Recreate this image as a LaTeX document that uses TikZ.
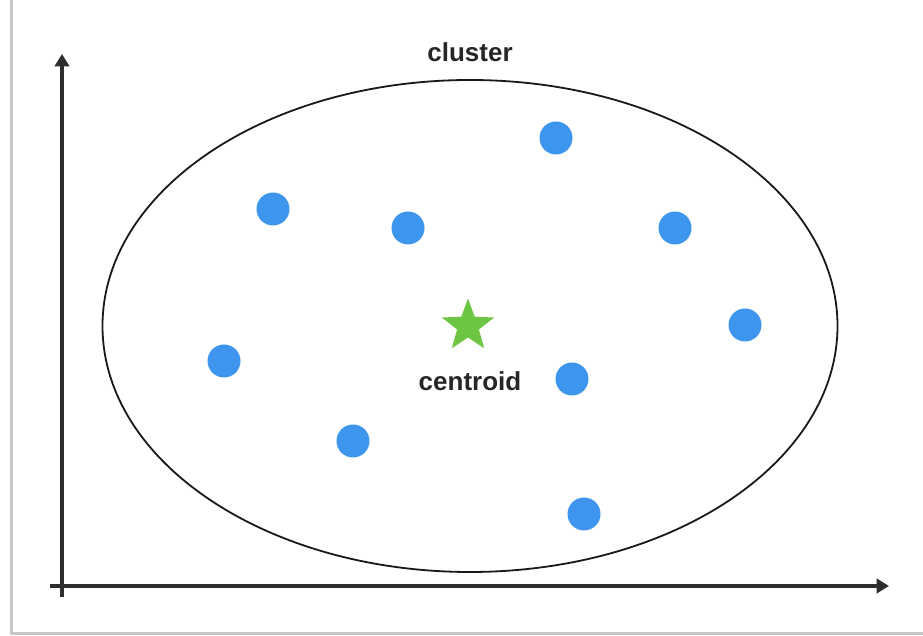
\documentclass[tikz,border=0pt]{standalone}
\usepackage{fontspec}
\setmainfont{Liberation Sans}
\usetikzlibrary{arrows.meta,shapes.geometric}

\definecolor{pointblue}{HTML}{3D95EE}
\definecolor{stargreen}{HTML}{6CC644}
\definecolor{axisgray}{HTML}{2E2E2E}

\begin{document}
\begin{tikzpicture}[
    x=1pt, y=1pt,
    >=Triangle,
    line join=round,
    label/.style={font=\fontsize{26}{30}\selectfont\bfseries, text=black!85, inner sep=0pt},
    axis/.style={->, line width=3.2pt, draw=axisgray},
    datapoint/.style={circle, fill=pointblue, minimum size=33pt, inner sep=0pt},
    centre/.style={star, star points=5, star point ratio=2.4, fill=stargreen,
        minimum size=55pt, inner sep=0pt}
]

% =========================
% Card with shadow
% =========================
\useasboundingbox (0,0) rectangle (923,636);
\fill[black!22] (10,1) rectangle (923,636);
\fill[white] (13,4) rectangle (923,636);

% =========================
% Axes
% =========================
\coordinate (ybot) at (62,39);
\coordinate (ytop) at (62,582);
\coordinate (xleft) at (50,50);
\coordinate (xright) at (889,50);

\draw[axis] (ybot) -- (ytop);
\draw[axis] (xleft) -- (xright);

% =========================
% Cluster boundary
% =========================
\node[ellipse, draw=black!90, line width=1.8pt, minimum width=735pt,
    minimum height=492pt, inner sep=0pt] (cluster) at (470,310) {};
\node[label] (clusterlabel) at (470,584) {cluster};

% =========================
% Centroid
% =========================
\node[centre] (centroid) at (468,310) {};
\node[label] (centroidlabel) at (470,255) {centroid};

% =========================
% Data points
% =========================
\foreach \px/\py [count=\i] in {556/498, 273/427, 408/408, 675/408, 745/311,
                                224/275, 572/257, 353/195, 584/122}
    \node[datapoint] (p\i) at (\px,\py) {};

\end{tikzpicture}
\end{document}
